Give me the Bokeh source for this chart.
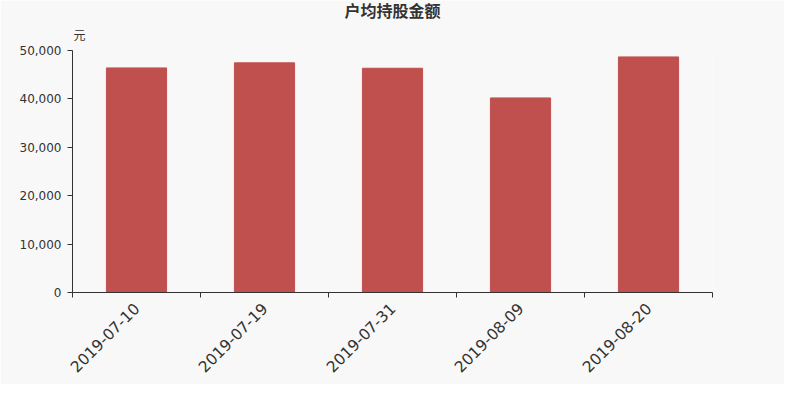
from math import pi
from bokeh.plotting import figure
from bokeh.models import (ColumnDataSource, FixedTicker, NumeralTickFormatter,
                          Range1d, Title)
from bokeh.embed import file_html
from bokeh.resources import INLINE

title_text = "户均持股金额"
unit_text = "元"
dates = ["2019-07-10", "2019-07-19", "2019-07-31", "2019-08-09", "2019-08-20"]
values = [46400, 47450, 46330, 40200, 48670]
y_ticks = [0, 10000, 20000, 30000, 40000, 50000]

bg = "#f8f8f8"
bar_color = "#c0504d"
text_color = "#333333"

n = len(dates)
centers = [i + 0.5 for i in range(n)]
src = ColumnDataSource(dict(x=centers, top=values))

p = figure(width=784, height=384, output_backend="svg", toolbar_location=None,
           x_range=Range1d(0, n), y_range=Range1d(0, y_ticks[-1]),
           background_fill_color=bg, border_fill_color=bg,
           min_border_left=72, min_border_right=72,
           min_border_top=42, min_border_bottom=92)
p.outline_line_color = None
p.grid.visible = False

p.vbar(x="x", top="top", width=0.47, source=src, color=bar_color)

# x axis
xa = p.xaxis[0]
xa.ticker = FixedTicker(ticks=centers, minor_ticks=list(range(n + 1)))
xa.major_label_overrides = {c: d for c, d in zip(centers, dates)}
xa.major_tick_line_color = None
xa.minor_tick_line_color = text_color
xa.minor_tick_out = 5
xa.minor_tick_in = 0
xa.axis_line_color = text_color
xa.major_label_orientation = pi / 4
xa.major_label_text_font_size = "15.5px"
xa.major_label_text_color = text_color
xa.major_label_text_font = "DejaVu Sans"
xa.major_label_standoff = 7

# y axis
ya = p.yaxis[0]
ya.ticker = FixedTicker(ticks=y_ticks)
ya.formatter = NumeralTickFormatter(format="0,0")
ya.axis_line_color = text_color
ya.major_tick_line_color = text_color
ya.major_tick_out = 5
ya.major_tick_in = 0
ya.minor_tick_line_color = None
ya.major_label_text_font_size = "12px"
ya.major_label_text_color = text_color
ya.major_label_text_font = "DejaVu Sans"
ya.major_label_standoff = 6

unit_title = Title(text=unit_text, align="left", offset=1,
                   text_font_size="12px", text_font_style="normal",
                   text_color=text_color, text_font="Noto Sans CJK SC",
                   standoff=15)
main_title = Title(text=title_text, align="center",
                   text_font_size="16px", text_font_style="bold",
                   text_color=text_color, text_font="Noto Sans CJK SC",
                   standoff=-10)
p.add_layout(unit_title, "above")
p.add_layout(main_title, "above")

open("out.html", "w").write(file_html(p, INLINE))
